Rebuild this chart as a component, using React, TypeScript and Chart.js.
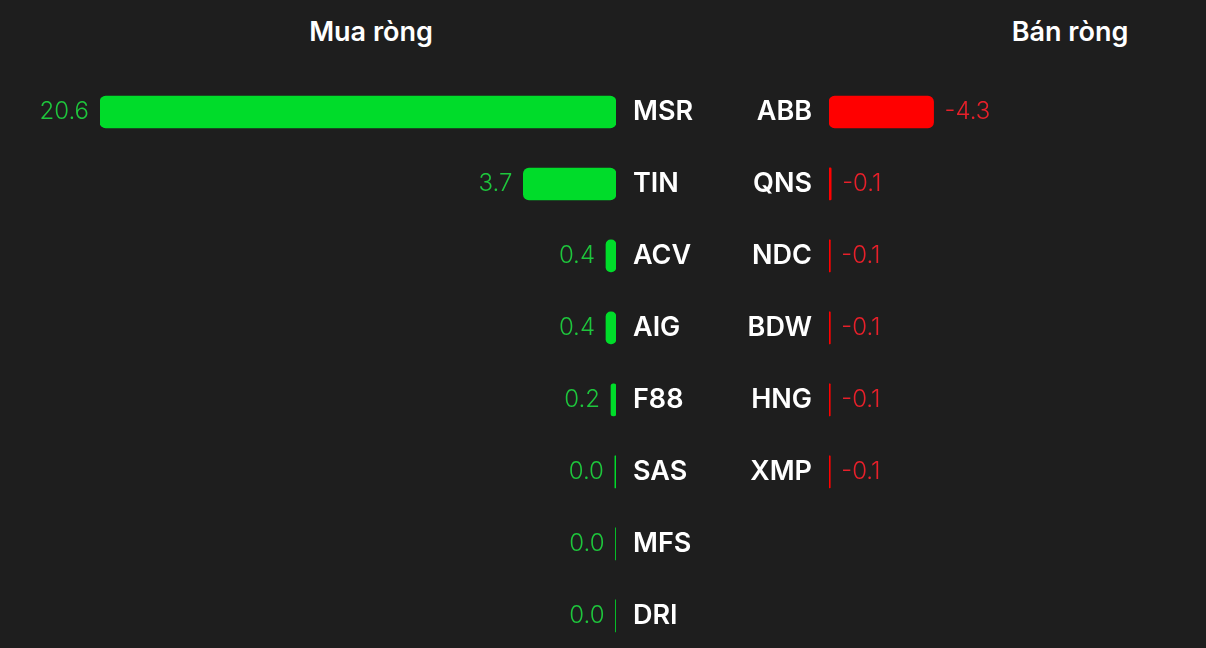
import { useEffect, useRef } from "react";
import { Chart, registerables, Plugin } from "chart.js";

Chart.register(...registerables);

// dữ liệu mua ròng / bán ròng (tỷ đồng)
const buyLabels = ["MSR", "TIN", "ACV", "AIG", "F88", "SAS", "MFS", "DRI"];
const buyValues = [20.6, 3.7, 0.4, 0.4, 0.2, 0.045, 0.02, 0.02];

const sellLabels = ["ABB", "QNS", "NDC", "BDW", "HNG", "XMP"];
const sellValues = [-4.3, -0.09, -0.055, -0.055, -0.052, -0.052];

const BG = "#1e1e1e";
const GREEN = "#00dc2a";
const GREEN_TEXT = "#1ec63c";
const RED = "#ff0000";
const RED_TEXT = "#e8202a";
const FONT = "Inter, 'Noto Sans', sans-serif";

// vẽ số ở đầu thanh
function valueLabels(color: string, side: "left" | "right"): Plugin<"bar"> {
  return {
    id: "valueLabels",
    afterDatasetsDraw(chart) {
      const ctx = chart.ctx;
      const meta = chart.getDatasetMeta(0);
      const values = chart.data.datasets[0].data as number[];
      ctx.save();
      ctx.font = `300 24px ${FONT}`;
      ctx.fillStyle = color;
      ctx.textBaseline = "middle";
      ctx.textAlign = side === "left" ? "right" : "left";
      meta.data.forEach((el: any, i) => {
        const text = values[i].toFixed(1);
        const x =
          side === "left"
            ? Math.min(el.x, el.base) - 11
            : Math.max(el.x, el.base) + 11;
        ctx.fillText(text, x, el.y);
      });
      ctx.restore();
    },
  };
}

function BuyChart() {
  const chartRef = useRef<HTMLCanvasElement>(null);
  const chartInstance = useRef<Chart | null>(null);

  useEffect(() => {
    if (!chartRef.current) return;
    if (chartInstance.current) chartInstance.current.destroy();

    chartInstance.current = new Chart(chartRef.current, {
      type: "bar",
      data: {
        labels: buyLabels,
        datasets: [
          {
            data: buyValues,
            backgroundColor: GREEN,
            borderRadius: 6,
            borderSkipped: false,
            barThickness: 32,
          },
        ],
      },
      options: {
        indexAxis: "y",
        animation: false,
        responsive: true,
        maintainAspectRatio: false,
        layout: { padding: { left: 100, top: 76, bottom: 2, right: 0 } },
        plugins: { legend: { display: false }, tooltip: { enabled: false } },
        scales: {
          x: { display: false, reverse: true, min: 0, max: 20.6 },
          y: {
            position: "right",
            grid: { display: false, drawTicks: false },
            border: { display: false },
            ticks: {
              color: "#ffffff",
              padding: 17,
              font: { family: FONT, size: 27, weight: 600 },
            },
            afterFit(scale) {
              scale.width = 100;
            },
          },
        },
      },
      plugins: [valueLabels(GREEN_TEXT, "left")],
    });

    return () => {
      if (chartInstance.current) {
        chartInstance.current.destroy();
        chartInstance.current = null;
      }
    };
  }, []);

  // cao hơn khung để phần đệm nhãn dưới cùng nằm ngoài ảnh
  return (
    <div style={{ position: "absolute", left: 0, top: 0, width: 716, height: 685 }}>
      <canvas ref={chartRef}></canvas>
    </div>
  );
}

function SellChart() {
  const chartRef = useRef<HTMLCanvasElement>(null);
  const chartInstance = useRef<Chart | null>(null);

  useEffect(() => {
    if (!chartRef.current) return;
    if (chartInstance.current) chartInstance.current.destroy();

    chartInstance.current = new Chart(chartRef.current, {
      type: "bar",
      data: {
        labels: sellLabels,
        datasets: [
          {
            data: sellValues,
            backgroundColor: RED,
            borderRadius: 6,
            borderSkipped: false,
            barThickness: 32,
          },
        ],
      },
      options: {
        indexAxis: "y",
        animation: false,
        responsive: true,
        maintainAspectRatio: false,
        layout: { padding: { left: 0, top: 76, bottom: 0, right: 0 } },
        plugins: { legend: { display: false }, tooltip: { enabled: false } },
        scales: {
          x: { display: false, reverse: true, min: -15.5, max: 0 },
          y: {
            position: "left",
            grid: { display: false, drawTicks: false },
            border: { display: false },
            ticks: {
              color: "#ffffff",
              padding: 17,
              font: { family: FONT, size: 27, weight: 600 },
            },
            afterFit(scale) {
              scale.width = 113;
            },
          },
        },
      },
      plugins: [valueLabels(RED_TEXT, "right")],
    });

    return () => {
      if (chartInstance.current) {
        chartInstance.current.destroy();
        chartInstance.current = null;
      }
    };
  }, []);

  return (
    <div style={{ position: "absolute", left: 716, top: 0, width: 490, height: 541 }}>
      <canvas ref={chartRef}></canvas>
    </div>
  );
}

const titleStyle: React.CSSProperties = {
  position: "absolute",
  top: 16,
  transform: "translateX(-50%)",
  color: "#ffffff",
  fontFamily: FONT,
  fontSize: 27,
  fontWeight: 600,
  lineHeight: "32px",
  whiteSpace: "nowrap",
};

export default function App() {
  return (
    <div
      style={{
        position: "fixed",
        left: 0,
        top: 0,
        width: 1206,
        height: 648,
        background: BG,
        overflow: "hidden",
      }}
    >
      <div style={{ ...titleStyle, left: 371 }}>Mua ròng</div>
      <div style={{ ...titleStyle, left: 1070 }}>Bán ròng</div>
      <BuyChart />
      <SellChart />
    </div>
  );
}
